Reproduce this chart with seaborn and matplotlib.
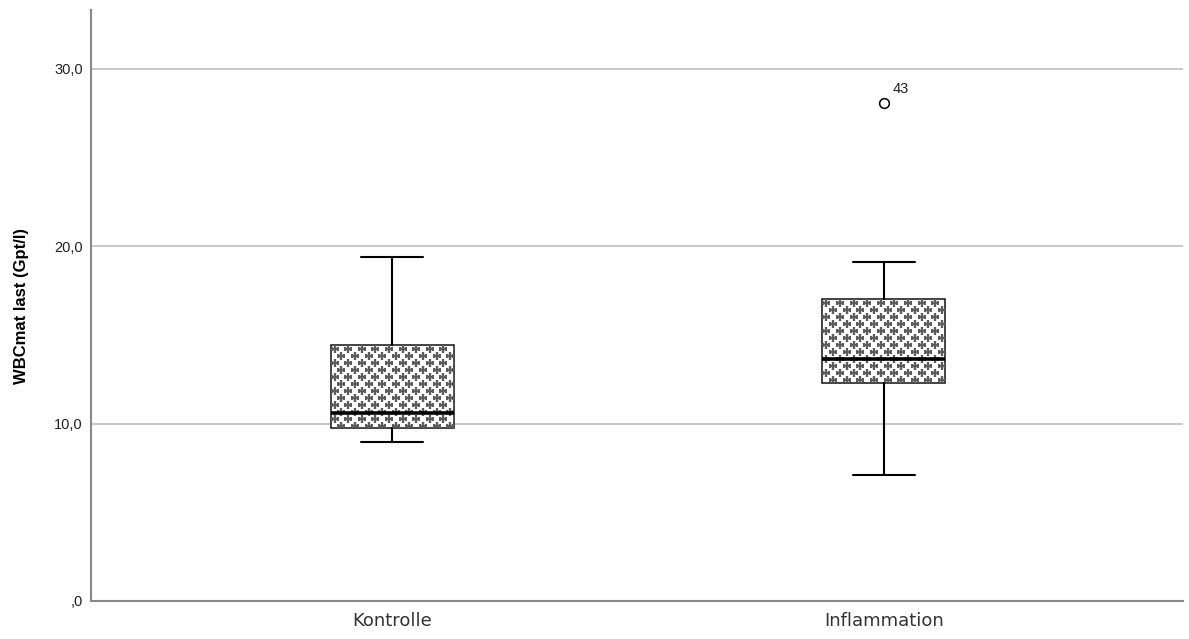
import numpy as np
import matplotlib
matplotlib.use('Agg')
import matplotlib.pyplot as plt
import seaborn as sns

groups = ['Kontrolle', 'Inflammation']
whisker_low = [8.95, 7.1]
q1 = [9.75, 12.28]
median = [10.6, 13.63]
q3 = [14.4, 17.01]
whisker_high = [19.4, 19.1]
outliers = [[], [28.05]]
outlier_ids = [[], ['43']]
yticks = [0, 10, 20, 30]
ytick_labels = [',0', '10,0', '20,0', '30,0']

sns.set_theme(style='white')
plt.rcParams['font.family'] = ['Liberation Sans', 'DejaVu Sans']

stats = []
for i, g in enumerate(groups):
    stats.append(dict(label=g, whislo=whisker_low[i], q1=q1[i], med=median[i],
                      q3=q3[i], whishi=whisker_high[i], fliers=outliers[i]))

fig = plt.figure(figsize=(11.89, 6.39), dpi=100)
ax = fig.add_axes([91 / 1189, 38 / 639, 1092 / 1189, 591 / 639])
ax.set_xlim(-0.612, 1.608)
ax.set_ylim(0, 33.3)

positions = list(range(len(groups)))
bp = ax.bxp(stats, positions=positions, widths=0.25, capwidths=0.125,
            patch_artist=True,
            boxprops=dict(facecolor='white', edgecolor='#111111', linewidth=1.1),
            medianprops=dict(color='black', linewidth=2.6),
            whiskerprops=dict(color='black', linewidth=1.5),
            capprops=dict(color='black', linewidth=1.5),
            flierprops=dict(marker='o', markerfacecolor='none',
                            markeredgecolor='black', markersize=7,
                            markeredgewidth=1.1))
for b in bp['boxes']:
    b.set_zorder(2)
for k in ['medians', 'whiskers', 'caps', 'fliers']:
    for l in bp[k]:
        l.set_zorder(4)

# plus-sign fill pattern (SPSS style), staggered rows
xstep = 13.6
ystep = 7.0
for i, box in enumerate(bp['boxes']):
    x0, y0 = ax.transData.transform((positions[i] - 0.125, q1[i]))
    x1, y1 = ax.transData.transform((positions[i] + 0.125, q3[i]))
    pts = []
    row = 0
    y = y1 - 4
    while y > y0:
        off = (xstep / 2) if row % 2 else 0
        x = x0 + 4 + off
        while x < x1 + 4:
            pts.append((x, y))
            x += xstep
        y -= ystep
        row += 1
    pts = ax.transData.inverted().transform(np.array(pts))
    sc = ax.plot(pts[:, 0], pts[:, 1], linestyle='none', marker='+',
                 markersize=5.2, markeredgewidth=1.7, color='#5c5c5c',
                 zorder=3)[0]
    sc.set_clip_path(box)

for i, ids in enumerate(outlier_ids):
    for v, t in zip(outliers[i], ids):
        ax.annotate(t, (positions[i], v), xytext=(6, 7),
                    textcoords='offset points', fontsize=10.5, color='#222222')

ax.set_yticks(yticks)
ax.set_yticklabels(ytick_labels)
ax.set_xticks(positions)
ax.set_xticklabels(groups)
ax.tick_params(axis='y', labelsize=10.5, colors='#222222', length=0, pad=6)
ax.tick_params(axis='x', labelsize=13, colors='#333333', length=0, pad=8)
for t in ax.get_xticklabels():
    t.set_family(['DejaVu Sans'])
ax.yaxis.grid(True, color='#c4c4c4', linewidth=1.3)
ax.set_axisbelow(True)
ax.set_ylabel('WBCmat last (Gpt/l)', fontsize=12, fontweight='bold',
              labelpad=18, color='black')
for s in ['top', 'right']:
    ax.spines[s].set_visible(False)
for s in ['left', 'bottom']:
    ax.spines[s].set_color('#888888')
    ax.spines[s].set_linewidth(1.5)

fig.savefig('out.png', dpi=100)
